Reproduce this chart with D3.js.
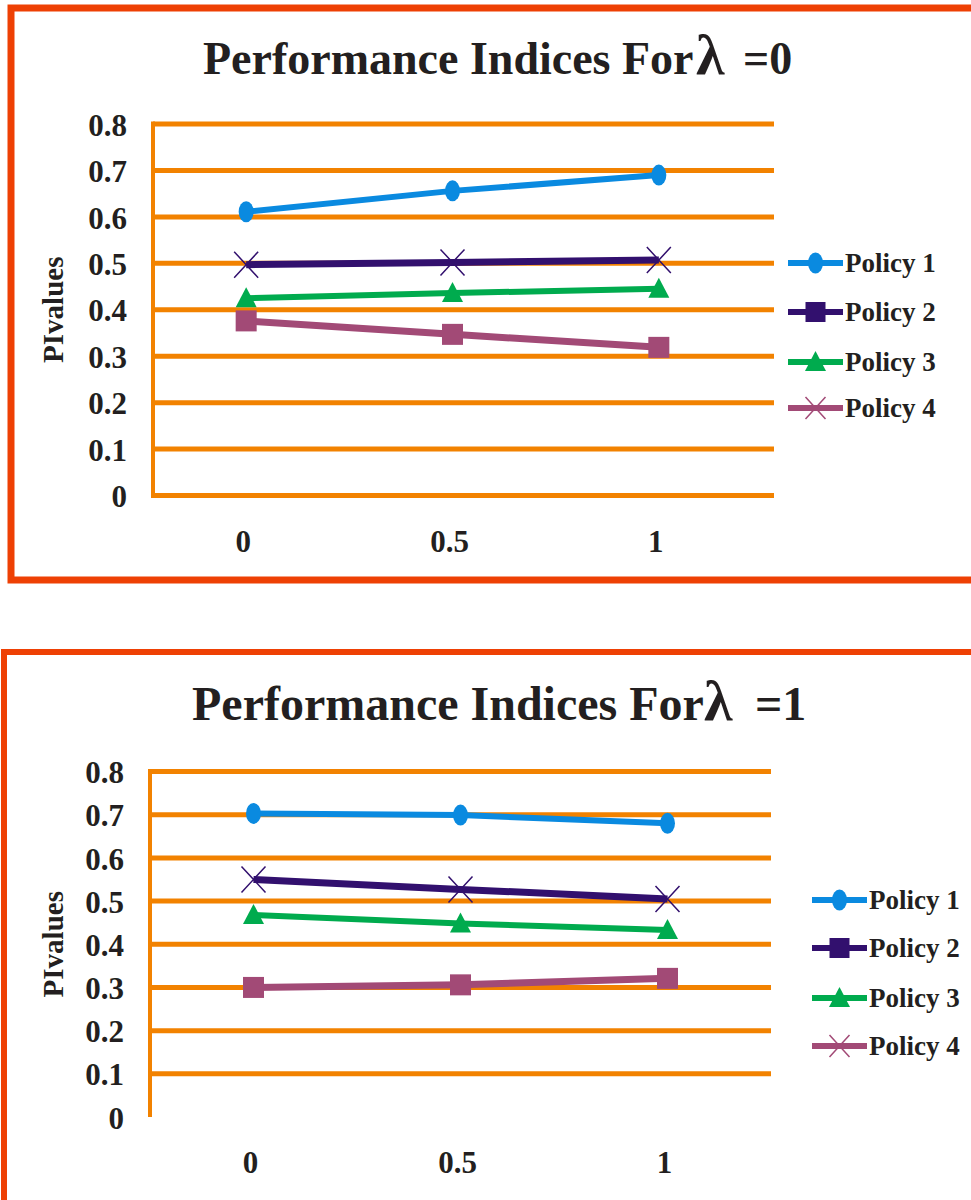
<!DOCTYPE html>
<html>
<head>
<meta charset="utf-8">
<script src="https://cdn.jsdelivr.net/npm/d3@7"></script>
<style>
  html, body { margin: 0; padding: 0; background: #ffffff; }
  svg { display: block; }
  text { font-family: "Liberation Serif", "Times New Roman", serif; fill: #231f20; }
</style>
</head>
<body>
<svg id="chart" width="971" height="1200"></svg>
<script>
// ---------- data ----------
const categories = ["0", "0.5", "1"];
const seriesNames = ["Policy 1", "Policy 2", "Policy 3", "Policy 4"];
const yTickValues = [0, 0.1, 0.2, 0.3, 0.4, 0.5, 0.6, 0.7, 0.8];
const yTickLabels = ["0", "0.1", "0.2", "0.3", "0.4", "0.5", "0.6", "0.7", "0.8"];
const titleValues = ["0", "1"];

// lambda = 0
const policy1Lambda0 = [0.611, 0.656, 0.690];
const policy2Lambda0 = [0.497, 0.502, 0.507];
const policy3Lambda0 = [0.425, 0.436, 0.445];
const policy4Lambda0 = [0.376, 0.347, 0.319];

// lambda = 1
const policy1Lambda1 = [0.703, 0.699, 0.680];
const policy2Lambda1 = [0.550, 0.527, 0.505];
const policy3Lambda1 = [0.468, 0.448, 0.433];
const policy4Lambda1 = [0.300, 0.306, 0.321];

// ---------- styles ----------
const colors = ["#0a8ae0", "#32106e", "#00ab4e", "#a24a76"];
const lineWidths = [6, 7, 6, 7];
const plotMarkers = ["ellipse", "x", "triangle", "square"];
const legendMarkers = ["ellipse", "square", "triangle", "x"];
const gridColor = "#f28200";
const frameColor = "#ee4004";

const svg = d3.select("#chart");

// ---------- frames ----------
svg.append("path")
  .attr("d", "M 1000 8 L 11 8 L 11 580 L 1000 580")
  .attr("fill", "none").attr("stroke", frameColor).attr("stroke-width", 7);
svg.append("path")
  .attr("d", "M 1000 652 L 4 652 L 4 1230")
  .attr("fill", "none").attr("stroke", frameColor).attr("stroke-width", 6);

const charts = [
  {
    values: [policy1Lambda0, policy2Lambda0, policy3Lambda0, policy4Lambda0],
    titleValue: titleValues[0],
    titleX: 203, titleY: 74, titleSize: 46, lambdaX: 696, eqX: 743,
    left: 153, right: 774, top: 124, bottom: 495.5,
    xRange: [143, 762],
    zeroGrid: true,
    legendX: 788, legendY: [263, 312, 362, 408]
  },
  {
    values: [policy1Lambda1, policy2Lambda1, policy3Lambda1, policy4Lambda1],
    titleValue: titleValues[1],
    titleX: 192, titleY: 720, titleSize: 48, lambdaX: 704, eqX: 755,
    left: 150, right: 771, top: 771.5, bottom: 1117,
    xRange: [150, 771],
    zeroGrid: false,
    legendX: 812, legendY: [900, 948, 998, 1046]
  }
];

function drawMarker(g, type, cx, cy, color, big) {
  if (type === "ellipse") {
    g.append("ellipse").attr("cx", cx).attr("cy", cy)
      .attr("rx", 7.5).attr("ry", 10.5).attr("fill", color);
  } else if (type === "square") {
    const s = big ? 21 : 20;
    g.append("rect").attr("x", cx - s / 2).attr("y", cy - s / 2)
      .attr("width", s).attr("height", s).attr("fill", color);
  } else if (type === "triangle") {
    const w = 21, h = 20;
    g.append("path")
      .attr("d", `M ${cx} ${cy - h * 0.55} L ${cx + w / 2} ${cy + h * 0.45} L ${cx - w / 2} ${cy + h * 0.45} Z`)
      .attr("fill", color);
  } else if (type === "x") {
    const hw = big ? 12 : 10, hh = big ? 13 : 11;
    g.append("path")
      .attr("d", `M ${cx - hw} ${cy - hh} L ${cx + hw} ${cy + hh} M ${cx + hw} ${cy - hh} L ${cx - hw} ${cy + hh}`)
      .attr("stroke", color).attr("stroke-width", 1.5).attr("fill", "none");
  }
}

charts.forEach(c => {
  const g = svg.append("g");
  const x = d3.scalePoint().domain(categories).range(c.xRange).padding(0.5);
  const y = d3.scaleLinear().domain([0, 0.8]).range([c.bottom, c.top]);

  // title
  const t = g.append("text")
    .attr("x", c.titleX).attr("y", c.titleY)
    .attr("font-size", c.titleSize).attr("font-weight", "bold");
  t.append("tspan").text("Performance Indices For");
  t.append("tspan").attr("x", c.lambdaX)
    .attr("font-size", 58).attr("font-weight", "bold").text("λ");
  t.append("tspan").attr("x", c.eqX).text("=" + c.titleValue);

  // gridlines
  g.selectAll("line.grid")
    .data(yTickValues.filter(v => c.zeroGrid || v > 0))
    .join("line").attr("class", "grid")
    .attr("x1", c.left).attr("x2", c.right)
    .attr("y1", d => y(d)).attr("y2", d => y(d))
    .attr("stroke", gridColor).attr("stroke-width", 5);

  // y axis line
  g.append("line")
    .attr("x1", c.left).attr("x2", c.left)
    .attr("y1", y(0.8) - 2.5).attr("y2", y(0) + (c.zeroGrid ? 2.5 : 0))
    .attr("stroke", gridColor).attr("stroke-width", 4);

  // y tick labels
  const yAxis = d3.axisLeft(y).tickValues(yTickValues)
    .tickFormat((d, i) => yTickLabels[i]).tickSize(0).tickPadding(26);
  const ya = g.append("g").attr("transform", `translate(${c.left},0)`).call(yAxis);
  ya.select(".domain").remove();
  ya.selectAll("text")
    .attr("font-family", "Liberation Serif, Times New Roman, serif")
    .attr("font-size", 31).attr("font-weight", "bold").attr("fill", "#231f20")
    .attr("dy", "0.36em");

  // y axis title
  g.append("text")
    .attr("transform", `translate(63,${(c.top + c.bottom) / 2}) rotate(-90)`)
    .attr("text-anchor", "middle")
    .attr("font-size", 29).attr("font-weight", "bold")
    .text("PIvalues");

  // x labels
  g.selectAll("text.xlab")
    .data(categories)
    .join("text").attr("class", "xlab")
    .attr("x", d => x(d) - 3).attr("y", c.bottom + 56)
    .attr("text-anchor", "middle")
    .attr("font-size", 31).attr("font-weight", "bold")
    .text(d => d);

  // series
  const line = d3.line().x((d, i) => x(categories[i])).y(d => y(d));
  c.values.forEach((vals, si) => {
    const sg = g.append("g");
    sg.append("path").datum(vals)
      .attr("d", line)
      .attr("fill", "none").attr("stroke", colors[si])
      .attr("stroke-width", lineWidths[si]).attr("stroke-linejoin", "round");
    vals.forEach((v, i) => drawMarker(sg, plotMarkers[si], x(categories[i]), y(v), colors[si], true));
  });

  // legend
  seriesNames.forEach((name, si) => {
    const ly = c.legendY[si];
    const lg = g.append("g");
    lg.append("line")
      .attr("x1", c.legendX).attr("x2", c.legendX + 55)
      .attr("y1", ly).attr("y2", ly)
      .attr("stroke", colors[si]).attr("stroke-width", 6);
    drawMarker(lg, legendMarkers[si], c.legendX + 27.5, ly, colors[si], false);
    lg.append("text")
      .attr("x", c.legendX + 57).attr("y", ly + 9)
      .attr("font-size", 27).attr("font-weight", "bold")
      .text(name);
  });
});
</script>
</body>
</html>
